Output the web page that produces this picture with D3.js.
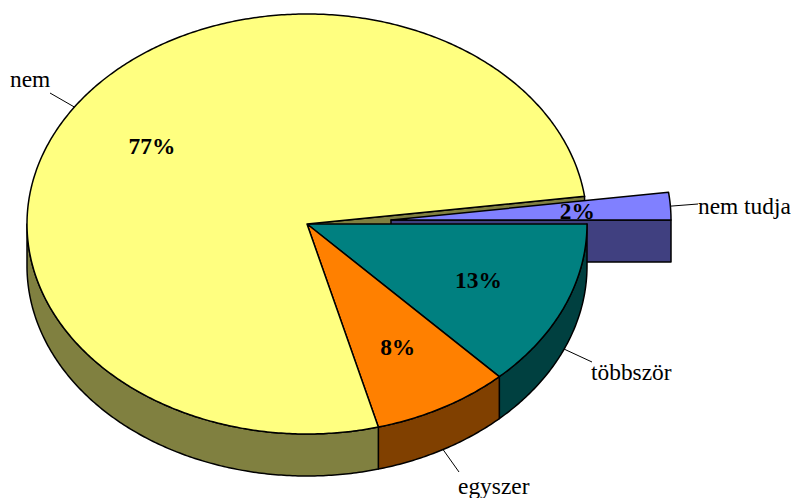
<!DOCTYPE html>
<html>
<head>
<meta charset="utf-8">
<script src="https://cdnjs.cloudflare.com/ajax/libs/d3/7.8.5/d3.min.js"></script>
<style>
html, body { margin: 0; padding: 0; background: #fff; }
svg { display: block; }
text { font-family: "Liberation Serif", "Times New Roman", serif; font-size: 23.4px; fill: #000; }
</style>
</head>
<body>
<div id="chart"></div>
<script>
// slices run clockwise from 3 o'clock
const categories = ['többször', 'egyszer', 'nem', 'nem tudja'];
const percents = [12.95, 7.95, 77, 2.1];
const topColors = ['#008080', '#FF8000', '#FFFF80', '#8080FF'];
const sideColors = ['#004040', '#804000', '#808040', '#404080'];

const width = 791;
const height = 498;
const cx = 307;
const cy = 224;
const rx = 280;
const ry = 210;
const depth = 42;
const explode = {'nem tudja': [84, -4]};
const labelEnds = {
    'többször': [592, 362, 591, 380, 'start'],
    'egyszer': [459, 472, 458, 494, 'start'],
    'nem': [50, 93, 10, 87, 'start'],
    'nem tudja': [698, 204, 698, 214, 'start']
};

const svg = d3.select('#chart').append('svg')
    .attr('width', width)
    .attr('height', height);

const pie = d3.pie()
    .sort(null)
    .value(d => d)
    .startAngle(Math.PI / 2)
    .endAngle(Math.PI / 2 + 2 * Math.PI);

const slices = pie(percents).map((d, i) => {
    const off = explode[categories[i]] || [0, 0];
    return {
        name: categories[i],
        value: d.value,
        start: d.startAngle,
        end: d.endAngle,
        mid: (d.startAngle + d.endAngle) / 2,
        top: topColors[i],
        side: sideColors[i],
        x0: cx + off[0],
        y0: cy + off[1]
    };
});

const line = d3.line();

function rim(s, a, f = 1, dy = 0) {
    return [s.x0 + rx * f * Math.sin(a), s.y0 - ry * f * Math.cos(a) + dy];
}

function arcPoints(s, a0, a1, dy = 0) {
    const n = Math.max(2, Math.ceil(Math.abs(a1 - a0) / 0.01));
    return d3.range(n + 1).map(i => rim(s, a0 + (a1 - a0) * i / n, 1, dy));
}

function drawPoly(points, fill) {
    svg.append('path')
        .attr('d', line(points) + 'Z')
        .attr('fill', fill)
        .attr('stroke', '#000')
        .attr('stroke-width', 1.5)
        .attr('stroke-linejoin', 'round');
}

const yellow = slices.find(s => s.name === 'nem');
const blue = slices.find(s => s.name === 'nem tudja');
const front = slices.filter(s => s !== blue);

// cut face of the big slice shows behind the pulled out one
const yEnd = rim(yellow, yellow.end);
drawPoly([[yellow.x0, yellow.y0], yEnd, [yEnd[0], yEnd[1] + depth], [yellow.x0, yellow.y0 + depth]], yellow.side);

// pulled out slice
const bEnd = rim(blue, blue.end);
drawPoly([[blue.x0, blue.y0], bEnd, [bEnd[0], bEnd[1] + depth], [blue.x0, blue.y0 + depth]], blue.side);
drawPoly([[blue.x0, blue.y0]].concat(arcPoints(blue, blue.start, blue.end)), blue.top);

// outer walls, only the part facing the viewer
front.forEach(s => {
    const a0 = Math.max(s.start, Math.PI / 2);
    const a1 = Math.min(s.end, 3 * Math.PI / 2);
    if (a1 <= a0) return;
    drawPoly(arcPoints(s, a0, a1).concat(arcPoints(s, a1, a0, depth)), s.side);
});

front.forEach(s => {
    drawPoly([[s.x0, s.y0]].concat(arcPoints(s, s.start, s.end)), s.top);
});

// leader lines and names
slices.forEach(s => {
    const end = labelEnds[s.name];
    const a = s.mid % (2 * Math.PI);
    const facing = a > Math.PI / 2 && a < 3 * Math.PI / 2;
    const from = rim(s, s.mid, 1, facing ? depth : 0);
    svg.append('line')
        .attr('x1', from[0])
        .attr('y1', from[1])
        .attr('x2', end[0])
        .attr('y2', end[1])
        .attr('stroke', '#000')
        .attr('stroke-width', 1);
    svg.append('text')
        .attr('x', end[2])
        .attr('y', end[3])
        .attr('text-anchor', end[4])
        .text(s.name);
});

// percent labels sit two thirds out along the middle of each slice
slices.forEach(s => {
    const p = rim(s, s.mid, 2 / 3);
    svg.append('text')
        .attr('x', p[0])
        .attr('y', p[1])
        .attr('dy', '0.35em')
        .attr('text-anchor', 'middle')
        .style('font-weight', 'bold')
        .text(Math.round(s.value) + '%');
});
</script>
</body>
</html>
